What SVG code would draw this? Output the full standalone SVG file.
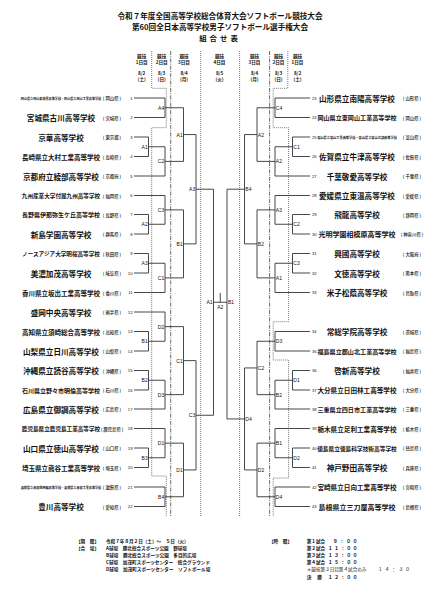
<svg xmlns="http://www.w3.org/2000/svg" width="433" height="602" viewBox="0 0 433 602">
<style>
text{font-family:"Noto Sans CJK JP","Noto Sans CJK SC",sans-serif;fill:#111;dominant-baseline:central}
.t{font-weight:700;text-anchor:middle}
.nm{font-weight:700;text-anchor:middle}
.pf{font-size:4.4px;text-anchor:middle;font-weight:500}
.no{font-family:"Liberation Sans",sans-serif;font-size:4.2px}
.nol{text-anchor:end}
.lb{font-family:"Liberation Sans",sans-serif;font-size:5px}
.lbl{text-anchor:end}
.hd{font-size:4.6px;font-weight:700;text-anchor:middle}
.ft{font-size:4.6px;font-weight:700}
.ln{stroke:#333;stroke-width:0.9;fill:none}
.dot{stroke:#555;stroke-width:0.8;stroke-dasharray:1 1;fill:none}
.dd{stroke:#444;stroke-width:0.8;stroke-dasharray:4 1.2 1 1.2;fill:none}
</style>
<rect width="433" height="602" fill="#fff"/>
<g id="title">
<text class="t" x="220" y="15.5" font-size="7.6">令和７年度全国高等学校総合体育大会ソフトボール競技大会</text>
<text class="t" x="220" y="26.5" font-size="7.6">第60回全日本高等学校男子ソフトボール選手権大会</text>
<text class="t" x="220" y="37.5" font-size="7.4" letter-spacing="3">組合せ表</text>
</g>
<g id="header">
<text class="hd" x="141.7" y="56">競技</text><text class="hd" x="141.7" y="62">1日目</text><text class="hd" x="141.7" y="72.5">8/2</text><text class="hd" x="141.7" y="79">(土)</text>
<text class="hd" x="161.7" y="56">競技</text><text class="hd" x="161.7" y="62">2日目</text><text class="hd" x="161.7" y="72.5">8/3</text><text class="hd" x="161.7" y="79">(日)</text>
<text class="hd" x="184" y="56">競技</text><text class="hd" x="184" y="62">3日目</text><text class="hd" x="184" y="72.5">8/4</text><text class="hd" x="184" y="79">(月)</text>
<text class="hd" x="219.5" y="56">競技</text><text class="hd" x="219.5" y="62">4日目</text><text class="hd" x="219.5" y="72.5">8/5</text><text class="hd" x="219.5" y="79">(火)</text>
<text class="hd" x="254.5" y="56">競技</text><text class="hd" x="254.5" y="62">3日目</text><text class="hd" x="254.5" y="72.5">8/4</text><text class="hd" x="254.5" y="79">(月)</text>
<text class="hd" x="278.5" y="56">競技</text><text class="hd" x="278.5" y="62">2日目</text><text class="hd" x="278.5" y="72.5">8/3</text><text class="hd" x="278.5" y="79">(日)</text>
<text class="hd" x="297.5" y="56">競技</text><text class="hd" x="297.5" y="62">1日目</text><text class="hd" x="297.5" y="72.5">8/2</text><text class="hd" x="297.5" y="79">(土)</text>
</g>
<g id="separators">
<path class="dot" d="M151.7 51V88.3H166.3V127.7H151.7V476H166.3V516.7"/>
<path class="dot" d="M287.8 51V88.3H273.2V127.7H288.6V321.7H273.2V360H288.6V478H273.2V516.7"/>
<path class="dd" d="M170.7 51V516.7M269.6 51V516.7"/>
<path class="dot" d="M200.7 51V516.7M239.6 51V516.7"/>
</g>
<g id="connectors">
<path class="ln" d="M134 98H165M134 117.5H165M134 137H148.5M134 156.5H148.5M134 176H165M134 195.5H165M134 214.5H148.5M134 234H148.5M134 253.5H148.5M134 273H148.5M134 292.5H165M134 312H165M134 331.5H148.5M134 351H148.5M134 370.5H148.5M134 390H148.5M134 409H165M134 428.5H165M134 448H148.5M134 467.5H148.5M134 487H165M134 506.5H165"/>
<path class="ln" d="M275 98H310M275 117.5H310M292.5 137H310M292.5 156.5H310M275 176H310M275 195.5H310M292.5 214.5H310M292.5 234H310M292.5 253.5H310M292.5 273H310M275 292.5H310M275 331.5H310M275 351H310M292.5 370.5H310M292.5 390H310M275 409H310M275 428.5H310M292.5 448H310M292.5 467.5H310M275 487H310M275 506.5H310"/>
<path class="ln" d="M148.5 137V156.5M148.5 146.75H165M165 98V117.5M165 107.75H183.5M165 146.75V176M165 161.38H183.5M183.5 107.75V161.38M183.5 134.56H196M148.5 214.5V234M148.5 224.25H165M165 195.5V224.25M165 209.88H183.5M148.5 253.5V273M148.5 263.25H165M165 263.25V292.5M165 277.88H183.5M183.5 209.88V277.88M183.5 243.88H196M196 134.56V243.88M196 189.22H213.5"/>
<path class="ln" d="M148.5 331.5V351M148.5 341.25H165M165 312V341.25M165 326.63H183.5M148.5 370.5V390M148.5 380.25H165M165 380.25V409M165 394.63H183.5M183.5 326.63V394.63M183.5 360.63H196M148.5 448V467.5M148.5 457.75H165M165 428.5V457.75M165 443.13H183.5M165 487V506.5M165 496.75H183.5M183.5 443.13V496.75M183.5 469.94H196M196 360.63V469.94M196 415.28H213.5"/>
<path class="ln" d="M213.5 189.22V415.28M213.5 302.25H227M220.25 293V302.25M227 189.22V418.94"/>
<path class="ln" d="M275 98V117.5M275 107.75H257M292.5 137V156.5M292.5 146.75H275M275 146.75V176M275 161.38H257M257 107.75V161.38M257 134.56H244.5M292.5 214.5V234M292.5 224.25H275M275 195.5V224.25M275 209.88H257M292.5 253.5V273M292.5 263.25H275M275 263.25V292.5M275 277.88H257M257 209.88V277.88M257 243.88H244.5M244.5 134.56V243.88M244.5 189.22H227"/>
<path class="ln" d="M275 331.5V351M275 341.25H257M292.5 370.5V390M292.5 380.25H275M275 380.25V409M275 394.63H257M257 341.25V394.63M257 367.94H244.5M292.5 448V467.5M292.5 457.75H275M275 428.5V457.75M275 443.13H257M275 487V506.5M275 496.75H257M257 443.13V496.75M257 469.94H244.5M244.5 367.94V469.94M244.5 418.94H227"/>
<text class="lb lbl" x="164.2" y="107.75">A4</text><text class="lb lbl" x="147.7" y="146.75">A1</text><text class="lb lbl" x="164.2" y="161.38">C2</text><text class="lb lbl" x="182.7" y="134.56">A1</text>
<text class="lb lbl" x="147.7" y="224.25">A2</text><text class="lb lbl" x="164.2" y="209.88">C3</text><text class="lb lbl" x="147.7" y="263.25">A3</text><text class="lb lbl" x="164.2" y="277.88">C1</text>
<text class="lb lbl" x="182.7" y="243.88">B1</text><text class="lb lbl" x="195.2" y="189.22">A3</text>
<text class="lb lbl" x="147.7" y="341.25">B1</text><text class="lb lbl" x="164.2" y="326.63">D2</text><text class="lb lbl" x="147.7" y="380.25">B2</text><text class="lb lbl" x="164.2" y="394.63">D3</text>
<text class="lb lbl" x="182.7" y="360.63">C1</text><text class="lb lbl" x="147.7" y="457.75">B3</text><text class="lb lbl" x="164.2" y="443.13">D1</text><text class="lb lbl" x="164.2" y="496.75">B4</text>
<text class="lb lbl" x="182.7" y="469.94">D1</text><text class="lb lbl" x="195.2" y="415.28">C3</text>
<text class="lb lbl" x="212.6" y="302.25">A1</text>
<text class="lb" x="228" y="302.25">B1</text>
<text class="lb" x="220.25" y="307" text-anchor="middle">A2</text>
<text class="lb" x="275.8" y="107.75">C4</text><text class="lb" x="293.3" y="146.75">C1</text><text class="lb" x="275.8" y="161.38">A2</text><text class="lb" x="257.8" y="134.56">A2</text>
<text class="lb" x="293.3" y="224.25">C2</text><text class="lb" x="275.8" y="209.88">A3</text><text class="lb" x="293.3" y="263.25">C3</text><text class="lb" x="275.8" y="277.88">A1</text>
<text class="lb" x="257.8" y="243.88">B2</text><text class="lb" x="245.3" y="189.22">B4</text>
<text class="lb" x="275.8" y="341.25">D3</text><text class="lb" x="293.3" y="380.25">D1</text><text class="lb" x="275.8" y="394.63">B2</text><text class="lb" x="257.8" y="367.94">C2</text>
<text class="lb" x="293.3" y="457.75">D2</text><text class="lb" x="275.8" y="443.13">B1</text><text class="lb" x="275.8" y="496.75">D4</text><text class="lb" x="257.8" y="469.94">D2</text>
<text class="lb" x="245.3" y="418.94">D4</text>
</g>
<g id="t1"><text class="nm" x="61" y="98" font-size="3.1" font-weight="500">岡山県立岡山東商業高等学校・岡山県立岡山工業高等学校</text><text class="pf" x="112" y="98">( 岡山県 )</text><text class="no nol" x="132.5" y="98">1</text></g>
<g id="t2"><text class="nm" x="61" y="117.5" font-size="7.6">宮城県古川高等学校</text><text class="pf" x="112" y="117.5">( 宮城県 )</text><text class="no nol" x="132.5" y="117.5">2</text></g>
<g id="t3"><text class="nm" x="61" y="137" font-size="7.6">京華高等学校</text><text class="pf" x="112" y="137">( 東京都 )</text><text class="no nol" x="132.5" y="137">3</text></g>
<g id="t4"><text class="nm" x="61" y="156.5" font-size="6.5">長崎県立大村工業高等学校</text><text class="pf" x="112" y="156.5">( 長崎県 )</text><text class="no nol" x="132.5" y="156.5">4</text></g>
<g id="t5"><text class="nm" x="61" y="176" font-size="7.6">京都府立綾部高等学校</text><text class="pf" x="112" y="176">( 京都府 )</text><text class="no nol" x="132.5" y="176">5</text></g>
<g id="t6"><text class="nm" x="61" y="195.5" font-size="5.6">九州産業大学付属九州高等学校</text><text class="pf" x="112" y="195.5">( 福岡県 )</text><text class="no nol" x="132.5" y="195.5">6</text></g>
<g id="t7"><text class="nm" x="61" y="214.5" font-size="6">長野県伊那弥生ケ丘高等学校</text><text class="pf" x="112" y="214.5">( 長野県 )</text><text class="no nol" x="132.5" y="214.5">7</text></g>
<g id="t8"><text class="nm" x="61" y="234" font-size="7.6">新島学園高等学校</text><text class="pf" x="112" y="234">( 群馬県 )</text><text class="no nol" x="132.5" y="234">8</text></g>
<g id="t9"><text class="nm" x="61" y="253.5" font-size="5.6">ノースアジア大学明桜高等学校</text><text class="pf" x="112" y="253.5">( 秋田県 )</text><text class="no nol" x="132.5" y="253.5">9</text></g>
<g id="t10"><text class="nm" x="61" y="273" font-size="7.6">美濃加茂高等学校</text><text class="pf" x="112" y="273">( 岐阜県 )</text><text class="no nol" x="132.5" y="273">10</text></g>
<g id="t11"><text class="nm" x="61" y="292.5" font-size="6.5">香川県立坂出工業高等学校</text><text class="pf" x="112" y="292.5">( 香川県 )</text><text class="no nol" x="132.5" y="292.5">11</text></g>
<g id="t12"><text class="nm" x="61" y="312" font-size="7.6">盛岡中央高等学校</text><text class="pf" x="112" y="312">( 岩手県 )</text><text class="no nol" x="132.5" y="312">12</text></g>
<g id="t13"><text class="nm" x="61" y="331.5" font-size="6.5">高知県立須崎総合高等学校</text><text class="pf" x="112" y="331.5">( 高知県 )</text><text class="no nol" x="132.5" y="331.5">13</text></g>
<g id="t14"><text class="nm" x="61" y="351" font-size="7.6">山梨県立日川高等学校</text><text class="pf" x="112" y="351">( 山梨県 )</text><text class="no nol" x="132.5" y="351">14</text></g>
<g id="t15"><text class="nm" x="61" y="370.5" font-size="7.6">沖縄県立読谷高等学校</text><text class="pf" x="112" y="370.5">( 沖縄県 )</text><text class="no nol" x="132.5" y="370.5">15</text></g>
<g id="t16"><text class="nm" x="61" y="390" font-size="6">石川県立野々市明倫高等学校</text><text class="pf" x="112" y="390">( 石川県 )</text><text class="no nol" x="132.5" y="390">16</text></g>
<g id="t17"><text class="nm" x="61" y="409" font-size="7.6">広島県立御調高等学校</text><text class="pf" x="112" y="409">( 広島県 )</text><text class="no nol" x="132.5" y="409">17</text></g>
<g id="t18"><text class="nm" x="61" y="428.5" font-size="5.6">鹿児島県立鹿児島工業高等学校</text><text class="pf" x="112" y="428.5">( 鹿児島県 )</text><text class="no nol" x="132.5" y="428.5">18</text></g>
<g id="t19"><text class="nm" x="61" y="448" font-size="7.6">山口県立徳山高等学校</text><text class="pf" x="112" y="448">( 山口県 )</text><text class="no nol" x="132.5" y="448">19</text></g>
<g id="t20"><text class="nm" x="61" y="467.5" font-size="6.5">埼玉県立熊谷工業高等学校</text><text class="pf" x="112" y="467.5">( 埼玉県 )</text><text class="no nol" x="132.5" y="467.5">20</text></g>
<g id="t21"><text class="nm" x="61" y="487" font-size="3.1" font-weight="500">滋賀県立彦根翔西館高等学校・滋賀県立彦根工業高等学校</text><text class="pf" x="112" y="487">( 滋賀県 )</text><text class="no nol" x="132.5" y="487">21</text></g>
<g id="t22"><text class="nm" x="61" y="506.5" font-size="7.6">豊川高等学校</text><text class="pf" x="112" y="506.5">( 愛知県 )</text><text class="no nol" x="132.5" y="506.5">22</text></g>
<g id="t23"><text class="no" x="312" y="98">23</text><text class="nm" x="357" y="98" font-size="7.6">山形県立南陽高等学校</text><text class="pf" x="412" y="98">( 山形県 )</text></g>
<g id="t24"><text class="no" x="312" y="117.5">24</text><text class="nm" x="357" y="117.5" font-size="6.1">岡山県立東岡山工業高等学校</text><text class="pf" x="412" y="117.5">( 岡山県 )</text></g>
<g id="t25"><text class="no" x="312" y="137">25</text><text class="nm" x="357" y="137" font-size="3.2" font-weight="500">富山県立富山工業高等学校・富山県立富山北部高等学校</text><text class="pf" x="412" y="137">( 富山県 )</text></g>
<g id="t26"><text class="no" x="312" y="156.5">26</text><text class="nm" x="357" y="156.5" font-size="7.6">佐賀県立牛津高等学校</text><text class="pf" x="412" y="156.5">( 佐賀県 )</text></g>
<g id="t27"><text class="no" x="312" y="176">27</text><text class="nm" x="357" y="176" font-size="7.6">千葉敬愛高等学校</text><text class="pf" x="412" y="176">( 千葉県 )</text></g>
<g id="t28"><text class="no" x="312" y="195.5">28</text><text class="nm" x="357" y="195.5" font-size="7.6">愛媛県立東温高等学校</text><text class="pf" x="412" y="195.5">( 愛媛県 )</text></g>
<g id="t29"><text class="no" x="312" y="214.5">29</text><text class="nm" x="357" y="214.5" font-size="7.6">飛龍高等学校</text><text class="pf" x="412" y="214.5">( 静岡県 )</text></g>
<g id="t30"><text class="no" x="312" y="234">30</text><text class="nm" x="357" y="234" font-size="7">光明学園相模原高等学校</text><text class="pf" x="412" y="234">( 神奈川県 )</text></g>
<g id="t31"><text class="no" x="312" y="253.5">31</text><text class="nm" x="357" y="253.5" font-size="7.6">興國高等学校</text><text class="pf" x="412" y="253.5">( 大阪府 )</text></g>
<g id="t32"><text class="no" x="312" y="273">32</text><text class="nm" x="357" y="273" font-size="7.6">文徳高等学校</text><text class="pf" x="412" y="273">( 熊本県 )</text></g>
<g id="t33"><text class="no" x="312" y="292.5">33</text><text class="nm" x="357" y="292.5" font-size="7.6">米子松蔭高等学校</text><text class="pf" x="412" y="292.5">( 鳥取県 )</text></g>
<g id="t34"><text class="no" x="312" y="331.5">34</text><text class="nm" x="357" y="331.5" font-size="7.6">常総学院高等学校</text><text class="pf" x="412" y="331.5">( 茨城県 )</text></g>
<g id="t35"><text class="no" x="312" y="351">35</text><text class="nm" x="357" y="351" font-size="6.1">福島県立郡山北工業高等学校</text><text class="pf" x="412" y="351">( 福島県 )</text></g>
<g id="t36"><text class="no" x="312" y="370.5">36</text><text class="nm" x="357" y="370.5" font-size="7.6">啓新高等学校</text><text class="pf" x="412" y="370.5">( 福井県 )</text></g>
<g id="t37"><text class="no" x="312" y="390">37</text><text class="nm" x="357" y="390" font-size="6.6">大分県立日田林工高等学校</text><text class="pf" x="412" y="390">( 大分県 )</text></g>
<g id="t38"><text class="no" x="312" y="409">38</text><text class="nm" x="357" y="409" font-size="6.1">三重県立四日市工業高等学校</text><text class="pf" x="412" y="409">( 三重県 )</text></g>
<g id="t39"><text class="no" x="312" y="428.5">39</text><text class="nm" x="357" y="428.5" font-size="6.6">栃木県立足利工業高等学校</text><text class="pf" x="412" y="428.5">( 栃木県 )</text></g>
<g id="t40"><text class="no" x="312" y="448">40</text><text class="nm" x="357" y="448" font-size="5.7">徳島県立徳島科学技術高等学校</text><text class="pf" x="412" y="448">( 徳島県 )</text></g>
<g id="t41"><text class="no" x="312" y="467.5">41</text><text class="nm" x="357" y="467.5" font-size="7.6">神戸野田高等学校</text><text class="pf" x="412" y="467.5">( 兵庫県 )</text></g>
<g id="t42"><text class="no" x="312" y="487">42</text><text class="nm" x="357" y="487" font-size="6.6">宮崎県立日向工業高等学校</text><text class="pf" x="412" y="487">( 宮崎県 )</text></g>
<g id="t43"><text class="no" x="312" y="506.5">43</text><text class="nm" x="357" y="506.5" font-size="7">島根県立三刀屋高等学校</text><text class="pf" x="412" y="506.5">( 島根県 )</text></g>
<g id="footer">
<text class="ft" x="76" y="541">【期　間】</text><text class="ft" x="106" y="541">令和７年８月２日（土）～　５日（火）</text>
<text class="ft" x="76" y="548">【会　場】</text><text class="ft" x="106" y="548">A球場　勝北総合スポーツ公園　野球場</text>
<text class="ft" x="106" y="555">B球場　勝北総合スポーツ公園　多目的広場</text>
<text class="ft" x="106" y="562">C球場　加茂町スポーツセンター　総合グラウンド</text>
<text class="ft" x="106" y="569">D球場　加茂町スポーツセンター　ソフトボール場</text>
<text class="ft" x="269" y="541">【時　間】</text>
<text class="ft" x="306.7" y="541">第１試合</text><text class="ft" x="333" y="541" letter-spacing="2">９：００</text>
<text class="ft" x="306.7" y="548">第２試合</text><text class="ft" x="328" y="548" letter-spacing="1.6">１１：００</text>
<text class="ft" x="306.7" y="555">第３試合</text><text class="ft" x="328" y="555" letter-spacing="1.6">１３：００</text>
<text class="ft" x="306.7" y="562">第４試合</text><text class="ft" x="328" y="562" letter-spacing="1.6">１５：００</text>
<text x="306.7" y="569" font-size="4.6">＊競技第３日目第４試合のみ</text><text x="378" y="569" font-size="4.6" letter-spacing="2.2">１４：３０</text>
<text class="ft" x="306.7" y="576.5" letter-spacing="6">決勝</text><text class="ft" x="328" y="576.5" letter-spacing="1.6">１２：００</text>
</g>
</svg>
